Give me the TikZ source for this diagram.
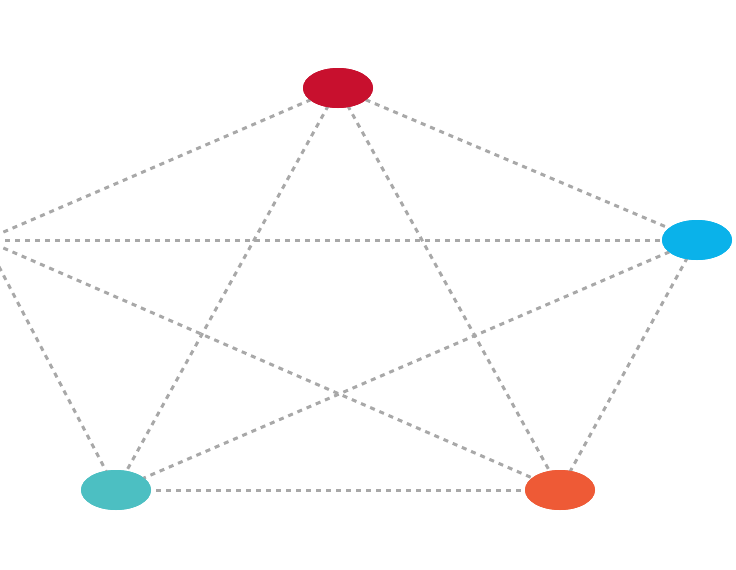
\documentclass[tikz,border=0pt]{standalone}
\usetikzlibrary{shapes.geometric}
\definecolor{cred}{HTML}{C8102E}
\definecolor{cblue}{HTML}{0AB2EA}
\definecolor{cteal}{HTML}{4CBFC2}
\definecolor{corange}{HTML}{EE5A36}
\definecolor{cline}{HTML}{A8A8A8}
\tikzset{
  vert/.style={ellipse, minimum width=70pt, minimum height=40pt, inner sep=0pt, draw=none},
  link/.style={draw=cline, line width=3pt, dash pattern=on 5pt off 5pt}
}
\begin{document}
\begin{tikzpicture}[x=1pt,y=-1pt]
\useasboundingbox (0,0) rectangle (736,570);
\clip (0,0) rectangle (736,570);
\coordinate (L) at (-15,240);
\node[vert, fill=cred] (R) at (338,88) {};
\node[vert, fill=cblue] (B) at (697,240) {};
\node[vert, fill=cteal] (T) at (116,490) {};
\node[vert, fill=corange] (O) at (560,490) {};
\begin{scope}[on background layer/.style={}]
\end{scope}
\draw[link] (L) -- (R.center);
\draw[link] (L) -- (B.center);
\draw[link] (L) -- (O.center);
\draw[link] (L) -- (T.center);
\draw[link] (R.center) -- (B.center);
\draw[link] (R.center) -- (T.center);
\draw[link] (R.center) -- (O.center);
\draw[link] (B.center) -- (T.center);
\draw[link] (B.center) -- (O.center);
\draw[link] (T.center) -- (O.center);
\node[vert, fill=cred] at (R) {};
\node[vert, fill=cblue] at (B) {};
\node[vert, fill=cteal] at (T) {};
\node[vert, fill=corange] at (O) {};
\end{tikzpicture}
\end{document}
